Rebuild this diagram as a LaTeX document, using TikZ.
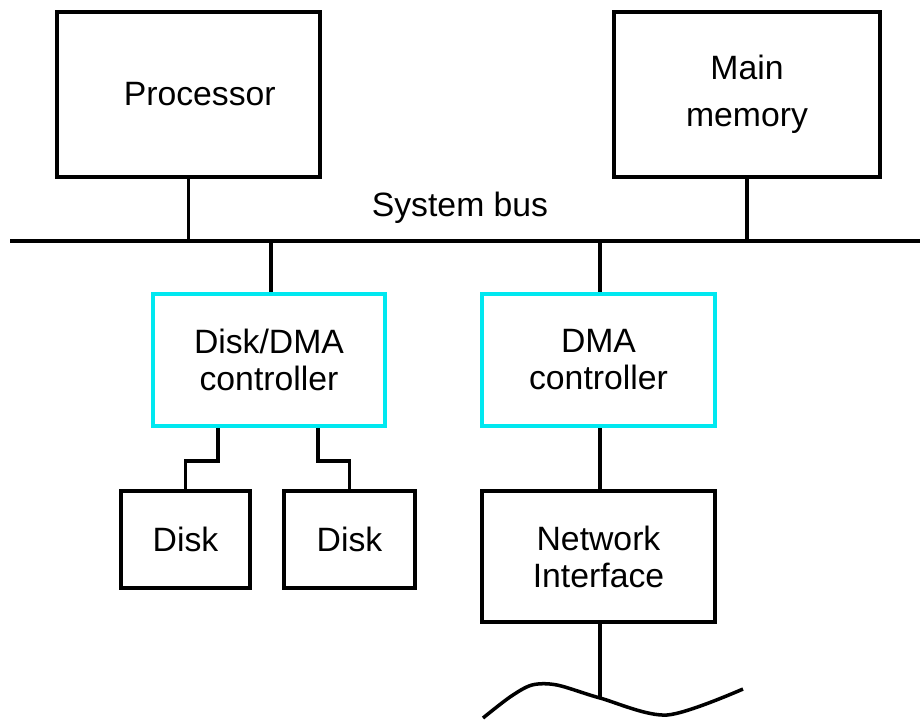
\documentclass[tikz,border=0pt]{standalone}
\usepackage{fontspec}
\setmainfont{Liberation Sans}
\usepackage{xcolor}
\usepackage{tikz}
\usetikzlibrary{positioning}
\definecolor{ctrlcyan}{RGB}{0,232,240}
\tikzstyle{unit} = [draw, rectangle, align=center, line width=2pt, font=\fontsize{19.2}{21}\selectfont]
\tikzstyle{ctrl} = [unit, draw=ctrlcyan]
\tikzstyle{line} = [line width=2pt]

\begin{document}
\begin{tikzpicture}[x=0.2mm, y=-0.2mm]
    \useasboundingbox (0,0) rectangle (920,719);
    \node (proc) [unit, minimum width=52.6mm, minimum height=33mm] at (188.5,94.5) {\hspace*{4.5mm}Processor};
    \node (mem) [unit, minimum width=53.2mm, minimum height=33mm] at (747,94.5) {Main\\[2mm]memory};
    \node (diskctl) [ctrl, minimum width=46.4mm, minimum height=26.4mm] at (269,360) {Disk/DMA\\controller};
    \node (dmactl) [ctrl, minimum width=46.6mm, minimum height=26.4mm] at (598.5,360) {DMA\\controller};
    \node (disk1) [unit, minimum width=25.8mm, minimum height=19.4mm] at (185.5,539.5) {Disk};
    \node (disk2) [unit, minimum width=26.2mm, minimum height=19.4mm] at (349.5,539.5) {Disk};
    \node (netif) [unit, minimum width=46.6mm, minimum height=26.2mm] at (598.5,556.5) {Network\\Interface};
    \node (buslabel) at (460,208) {\fontsize{19.2}{21}\selectfont System bus};
    % system bus
    \coordinate (busL) at (10,241);
    \coordinate (busR) at (920,241);
    \coordinate (net) at (600,697);
    \draw [line] (busL) -- (busR);
    \draw [line] (proc.south) -- (proc.south |- busL);
    \draw [line] (mem.south) -- (mem.south |- busL);
    \draw [line] ([xshift=0.4mm]diskctl.north |- busL) -- ([xshift=0.4mm]diskctl.north);
    \draw [line] ([xshift=0.3mm]dmactl.north |- busL) -- ([xshift=0.3mm]dmactl.north);
    \draw [line] ([xshift=-10.2mm]diskctl.south) -- ++(0,33) -| (disk1.north);
    \draw [line] ([xshift=9.8mm]diskctl.south) -- ++(0,33) -| (disk2.north);
    \draw [line] ([xshift=0.3mm]dmactl.south) -- ([xshift=0.3mm]netif.north);
    \draw [line] ([xshift=0.3mm]netif.south) -- (net);
    % network
    \draw [line] plot[smooth, tension=0.5] coordinates {(483,718) (510,697) (532,685) (557,685) (600,698) (667,715) (743,689)};
\end{tikzpicture}
\end{document}
